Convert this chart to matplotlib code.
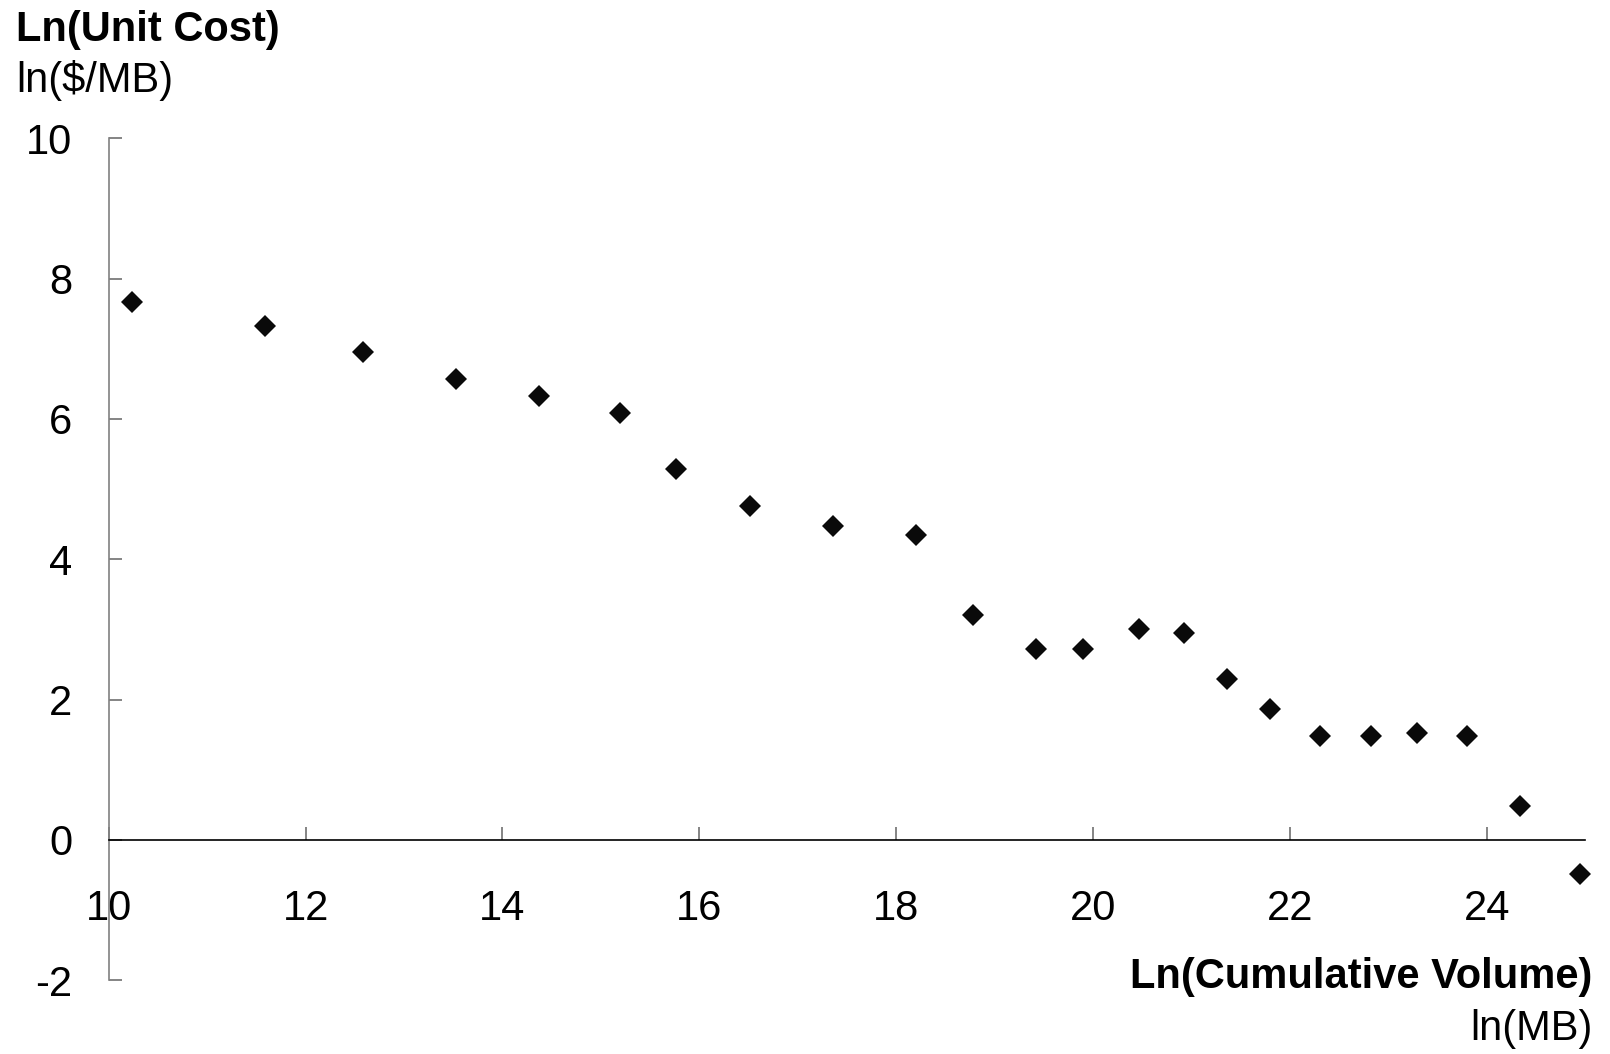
import matplotlib
matplotlib.use("Agg")
import matplotlib.pyplot as plt

plt.rcParams['font.family'] = ['Liberation Sans', 'DejaVu Sans']

# Data
ln_volume = [10.24, 11.59, 12.58, 13.53, 14.37, 15.19, 15.76, 16.51, 17.36, 18.20,
             18.78, 19.42, 19.90, 20.47, 20.92, 21.36, 21.80, 22.31, 22.82, 23.29,
             23.80, 24.34, 24.95]
ln_unit_cost = [7.66, 7.33, 6.95, 6.57, 6.33, 6.09, 5.29, 4.76, 4.48, 4.34,
                3.20, 2.72, 2.72, 3.00, 2.95, 2.29, 1.86, 1.48, 1.48, 1.53,
                1.48, 0.48, -0.48]
x_ticks = [10, 12, 14, 16, 18, 20, 22, 24]
y_ticks = [-2, 0, 2, 4, 6, 8, 10]

FS = 30
W, H = 1610, 1054
fig = plt.figure(figsize=(W / 100, H / 100), dpi=100)
left, right = 108.7 / W, 1585.3 / W
bottom, top = 1 - 980.3 / H, 1 - 138.3 / H
ax = fig.add_axes([left, bottom, right - left, top - bottom])

ax.plot(ln_volume, ln_unit_cost, linestyle='none', marker='D', markersize=11.5,
        color='#0a0a0a', markeredgewidth=0, clip_on=False)

ax.set_xlim(10, 25)
ax.set_ylim(-2, 10)
ax.set_xticks(x_ticks)
ax.set_yticks(y_ticks)
ax.set_xticklabels([str(v) for v in x_ticks])
ax.set_yticklabels([str(v) for v in y_ticks])

for s in ['top', 'right']:
    ax.spines[s].set_visible(False)
ax.spines['bottom'].set_position(('data', 0))
ax.spines['bottom'].set_color('black')
ax.spines['bottom'].set_linewidth(1.2)
ax.spines['left'].set_color('#808080')
ax.spines['left'].set_linewidth(1.2)

ax.tick_params(axis='x', direction='in', length=9.6, width=1.2, color='#707070',
               labelsize=FS, pad=35.5, labelcolor='black')
ax.tick_params(axis='y', direction='in', length=9.6, width=1.2, color='#707070',
               labelsize=FS, pad=26, labelcolor='black')

fig.text(16 / W, 1 - 40.7 / H, 'Ln(Unit Cost)', fontsize=FS, fontweight='bold',
         ha='left', va='baseline')
fig.text(16 / W, 1 - 91.7 / H, 'ln($/MB)', fontsize=FS, ha='left', va='baseline')
fig.text(1592.7 / W, 1 - 988.3 / H, 'Ln(Cumulative Volume)', fontsize=FS,
         fontweight='bold', ha='right', va='baseline')
fig.text(1592.7 / W, 1 - 1040 / H, 'ln(MB)', fontsize=FS, ha='right', va='baseline')

fig.savefig('out.png', dpi=100, facecolor='white')
